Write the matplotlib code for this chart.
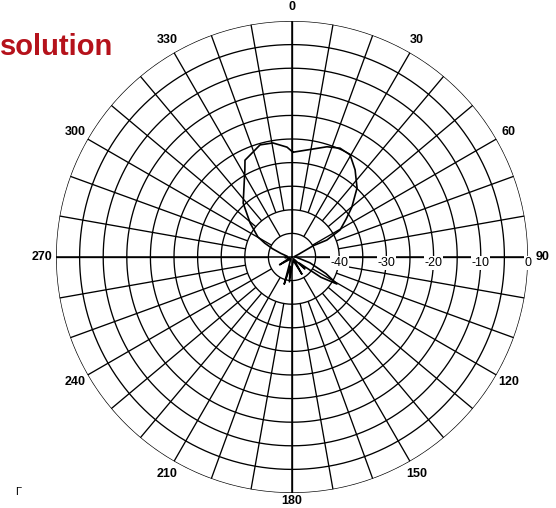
import numpy as np
import matplotlib
matplotlib.use('Agg')
import matplotlib.pyplot as plt

plt.rcParams['font.family'] = ['Liberation Sans', 'DejaVu Sans']

# measured pattern, angle in degrees (clockwise from north), level in dB
pattern_deg = [0.5, 8, 17.6, 23.8, 29.6, 35.9, 43.3, 50.2, 55, 60.6, 64.1, 62, 68,
               80, 95, 108, 116, 121, 125, 130, 133, 138, 150, 160, 175, 186, 190,
               196, 200, 215, 238, 250, 265, 278, 288, 293, 297, 300.5, 309, 317.8,
               331.6, 334.1, 344.1, 350.5, 357.4, 360.5]
pattern_db = [-27.8, -27.1, -25.5, -24.8, -25.1, -27.2, -29.9, -33.5, -36.0, -38.3,
              -41.8, -44.9, -48.5, -49.5, -49, -46, -42, -38.9, -42.5, -48, -46.3,
              -49.5, -45.8, -49.2, -48.5, -44.7, -48, -44, -48.5, -49.5, -46.9,
              -49.5, -48.5, -49, -47.5, -45.5, -43.5, -41.6, -38.6, -34.6,
              -29.0, -27.2, -25.3, -25.5, -26.7, -27.8]

ring_levels = [-45, -40, -35, -30, -25, -20, -15, -10, -5, 0]
level_labels = [-40, -30, -20, -10, 0]
angle_labels = [0, 30, 60, 90, 120, 150, 180, 210, 240, 270, 300, 330]

fig = plt.figure(figsize=(5.56, 5.08), dpi=100)
ax = fig.add_axes([56 / 556, 15 / 508, 472 / 556, 472 / 508], projection='polar')
ax.set_theta_zero_location('N')
ax.set_theta_direction(-1)
ax.set_rlim(-50, 0)
ax.grid(False)
ax.set_xticks([])
ax.set_yticks([])
ax.spines['polar'].set_visible(False)

grid_kw = dict(color='black', lw=0.95, solid_capstyle='butt')
full = np.linspace(0, 2 * np.pi, 721)

# rings every 5 dB
for lev in ring_levels:
    ax.plot(full, np.full_like(full, lev), **grid_kw)

# spokes: 10 deg outside -40 dB, 30 deg between -45 and -40, axes through centre
for a in range(0, 360, 10):
    ax.plot([np.deg2rad(a)] * 2, [-40, 0], **grid_kw)
for a in range(0, 360, 30):
    ax.plot([np.deg2rad(a)] * 2, [-45, -40], **grid_kw)
for a in (0, 90, 180, 270):
    ax.plot([np.deg2rad(a)] * 2, [-50, 0], color='black', lw=1.1)

# radiation pattern
ax.plot(np.deg2rad(pattern_deg), pattern_db, color='black', lw=1.2)

# level labels along the 90 deg axis
for lev in level_labels:
    ax.annotate(str(lev), xy=(np.deg2rad(90), lev), xytext=(0, -6),
                textcoords='offset pixels', ha='center', va='center',
                fontsize=9, color='black', annotation_clip=False,
                bbox=dict(boxstyle='square,pad=0.05', fc='white', ec='none'))

# angle labels round the rim
for a in angle_labels:
    r_lab = 1.6 if a == 180 else 3.0
    ax.text(np.deg2rad(a), r_lab, str(a), ha='center', va='center',
            fontsize=9, fontweight='bold', color='black', clip_on=False)

fig.text(0.0, 1 - 55 / 508, 'solution', color='#B5121B', fontsize=21,
         fontweight='bold', ha='left', va='baseline')
fig.text(18 / 556, 1 - 492 / 508, 'Γ', fontsize=8, color='black',
         ha='center', va='center')

fig.savefig('out.png', dpi=100)
